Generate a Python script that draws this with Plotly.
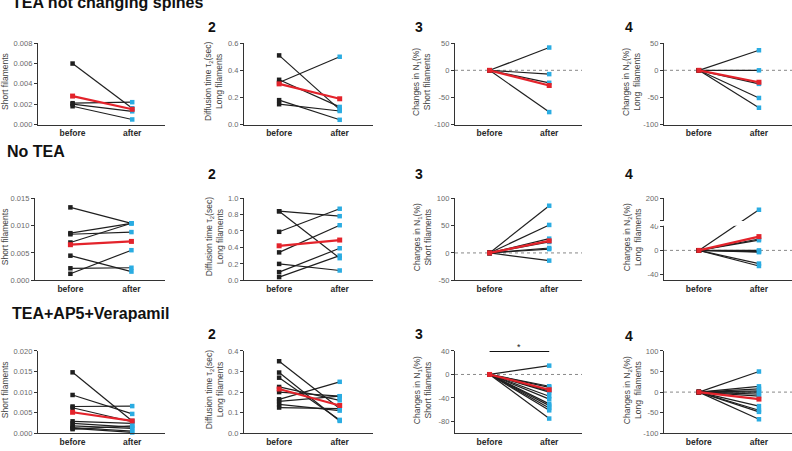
import plotly.graph_objects as go

W, H = 792, 451

# ---------------- data ----------------
groups = ["TEA not changing spines", "No TEA", "TEA+AP5+Verapamil"]
conditions = ["before", "after"]

# Row 1 : TEA not changing spines
r1_short_before = [0.0060, 0.0021, 0.0020, 0.0018]
r1_short_after = [0.0016, 0.0022, 0.0013, 0.0005]
r1_short_mean = [0.0028, 0.0015]
r1_tau2_before = [0.51, 0.33, 0.31, 0.18, 0.15]
r1_tau2_after = [0.11, 0.13, 0.50, 0.035, 0.10]
r1_tau2_mean = [0.30, 0.19]
r1_n1_after = [42, -7, -23, -77]
r1_n1_mean = [0, -28]
r1_n2_after = [37, 0, -25, -51, -69]
r1_n2_mean = [0, -22]

# Row 2 : No TEA
r2_short_before = [0.0133, 0.0086, 0.0084, 0.0069, 0.0045, 0.0022, 0.0012]
r2_short_after = [0.0104, 0.0104, 0.0088, 0.0104, 0.0016, 0.0023, 0.0055]
r2_short_mean = [0.0065, 0.0071]
r2_tau2_before = [0.84, 0.84, 0.59, 0.34, 0.20, 0.10, 0.04]
r2_tau2_after = [0.78, 0.27, 0.87, 0.67, 0.12, 0.39, 0.30]
r2_tau2_mean = [0.42, 0.49]
r2_n1_after = [86, 51, 26, 20, 9, 7, -14]
r2_n1_mean = [0, 22]
r2_n2_after = [122, 19, 17, 0, -2, -3, -22, -26]
r2_n2_mean = [0, 23]

# Row 3 : TEA+AP5+Verapamil
r3_short_before = [0.0148, 0.0093, 0.0065, 0.0062, 0.0029, 0.0024, 0.0018, 0.0014, 0.0012, 0.0010]
r3_short_after = [0.0030, 0.0047, 0.0066, 0.0028, 0.0024, 0.0015, 0.0012, 0.0005, 0.0002, 0.0018]
r3_short_mean = [0.0051, 0.0030]
r3_tau2_before = [0.35, 0.295, 0.27, 0.225, 0.20, 0.165, 0.155, 0.14, 0.125]
r3_tau2_after = [0.12, 0.06, 0.065, 0.16, 0.18, 0.25, 0.18, 0.11, 0.12]
r3_tau2_mean = [0.215, 0.135]
r3_n1_after = [15, -20, -22, -28, -30, -37, -42, -50, -53, -57, -61, -75]
r3_n1_mean = [0, -26]
r3_n2_after = [50, 14, 8, 3, 0, -5, -10, -34, -44, -48, -66]
r3_n2_mean = [0, -17]

sig_r3_n1 = {"from": 0, "to": 1, "level": 40, "label": "*"}

# broken axis (row 2, panel 4): lower segment -50..40, upper segment 50..200
BRK_LO, BRK_HI_START, BRK_HI_END = 40, 50, 200
BRK_GAP_DISP, BRK_TOP_DISP = 49.8, 87.3


def broken(v):
    if v <= BRK_LO:
        return v
    return BRK_GAP_DISP + (v - BRK_HI_START) / (BRK_HI_END - BRK_HI_START) * (BRK_TOP_DISP - BRK_GAP_DISP)


# ---------------- styles ----------------
FONT = "Arial, Liberation Sans, sans-serif"
BLACK = "#1f1f1f"
CYAN = "#2aace2"
RED = "#e3232b"
AX = "#333333"

col_px = [(38, 165), (244, 373), (455, 582), (664, 792)]
row_px = [(40, 123), (198, 282), (354, 438)]

ytitles = [
    "Short filaments",
    "Diffusion time τ<sub>2</sub>(sec)<br>Long filaments",
    "Changes in N<sub>1</sub>(%)<br>Short filaments",
    "Changes in N<sub>2</sub>(%)<br>Long  filaments",
]
ytitle_x = [5, 214, 422, 632]

panels = [
    # row 1
    dict(b=r1_short_before, a=r1_short_after, m=r1_short_mean, rng=[0, 0.008], tv=[0, 0.002, 0.004, 0.006, 0.008], fmt=".3f"),
    dict(b=r1_tau2_before, a=r1_tau2_after, m=r1_tau2_mean, rng=[0, 0.6], tv=[0, 0.2, 0.4, 0.6], fmt=".1f"),
    dict(b=[0] * len(r1_n1_after), a=r1_n1_after, m=r1_n1_mean, rng=[-100, 50], tv=[-100, -50, 0, 50], fmt="d", zero=True),
    dict(b=[0] * len(r1_n2_after), a=r1_n2_after, m=r1_n2_mean, rng=[-100, 50], tv=[-100, -50, 0, 50], fmt="d", zero=True),
    # row 2
    dict(b=r2_short_before, a=r2_short_after, m=r2_short_mean, rng=[0, 0.015], tv=[0, 0.005, 0.010, 0.015], fmt=".3f"),
    dict(b=r2_tau2_before, a=r2_tau2_after, m=r2_tau2_mean, rng=[0, 1.0], tv=[0, 0.2, 0.4, 0.6, 0.8, 1.0], fmt=".1f"),
    dict(b=[0] * len(r2_n1_after), a=r2_n1_after, m=r2_n1_mean, rng=[-50, 100], tv=[-50, 0, 50, 100], fmt="d", zero=True),
    dict(b=[0] * len(r2_n2_after), a=r2_n2_after, m=r2_n2_mean, rng=[-50, 200], tv=[-40, 0, 40, 50, 200], fmt="d", zero=True, broken=True),
    # row 3
    dict(b=r3_short_before, a=r3_short_after, m=r3_short_mean, rng=[0, 0.020], tv=[0, 0.005, 0.010, 0.015, 0.020], fmt=".3f"),
    dict(b=r3_tau2_before, a=r3_tau2_after, m=r3_tau2_mean, rng=[0, 0.4], tv=[0, 0.1, 0.2, 0.3, 0.4], fmt=".1f"),
    dict(b=[0] * len(r3_n1_after), a=r3_n1_after, m=r3_n1_mean, rng=[-100, 40], tv=[-80, -40, 0, 40], fmt="d", zero=True),
    dict(b=[0] * len(r3_n2_after), a=r3_n2_after, m=r3_n2_mean, rng=[-100, 100], tv=[-100, -50, 0, 50, 100], fmt="d", zero=True),
]

fig = go.Figure()
layout = dict(
    width=W, height=H, margin=dict(l=0, r=0, t=0, b=0),
    paper_bgcolor="white", plot_bgcolor="rgba(0,0,0,0)", showlegend=False,
    font=dict(family=FONT),
)
shapes = []
annotations = []

xpos = [0, 1]

for i, p in enumerate(panels):
    r, c = divmod(i, 4)
    n = i + 1
    xa = "xaxis" if n == 1 else f"xaxis{n}"
    ya = "yaxis" if n == 1 else f"yaxis{n}"
    xr = "x" if n == 1 else f"x{n}"
    yr = "y" if n == 1 else f"y{n}"
    x0, x1 = col_px[c]
    if r == 1 and c == 0:
        x0 = 35
    y0, y1 = row_px[r]
    tf = broken if p.get("broken") else (lambda v: v)

    layout[xa] = dict(
        domain=[x0 / W, x1 / W], anchor=yr, range=[-0.58, 1.55],
        tickmode="array", tickvals=xpos, ticktext=conditions,
        showline=True, linecolor=AX, linewidth=1.3, ticks="", showgrid=False, zeroline=False,
        tickfont=dict(size=8.5, color="#2a2a2a", family=FONT, weight="bold"),
    )
    if p.get("broken"):
        rng = [tf(-50), BRK_TOP_DISP]
        tickvals = [tf(v) for v in p["tv"]]
        ticktext = [("" if v == BRK_HI_START else str(v)) for v in p["tv"]]
    else:
        rng = p["rng"]
        tickvals = p["tv"]
        ticktext = [format(v, p["fmt"]) if p["fmt"] != "d" else str(int(v)) for v in p["tv"]]
    layout[ya] = dict(
        domain=[1 - y1 / H, 1 - y0 / H], anchor=xr, range=rng,
        tickmode="array", tickvals=tickvals, ticktext=ticktext,
        showline=True, linecolor=AX, linewidth=1.3, ticks="outside", ticklen=3, tickwidth=1, tickcolor=AX,
        showgrid=False, zeroline=False,
        tickfont=dict(size=7.5, color="#6a6a6a", family=FONT),
    )

    if p.get("zero"):
        shapes.append(dict(type="line", xref=f"{xr} domain", x0=0, x1=1, yref=yr, y0=0, y1=0,
                           line=dict(color="#888888", width=1, dash="dot"), layer="below"))

    for b, a in zip(p["b"], p["a"]):
        fig.add_trace(go.Scatter(
            x=xpos, y=[tf(b), tf(a)], xaxis=xr, yaxis=yr, mode="lines+markers",
            line=dict(color=BLACK, width=1.2),
            marker=dict(symbol="square", size=4.5, color=[BLACK, CYAN], line=dict(width=0)),
            cliponaxis=False, hoverinfo="skip",
        ))
    fig.add_trace(go.Scatter(
        x=xpos, y=[tf(v) for v in p["m"]], xaxis=xr, yaxis=yr, mode="lines+markers",
        line=dict(color=RED, width=2.2),
        marker=dict(symbol="square", size=5, color=RED, line=dict(width=0)),
        cliponaxis=False, hoverinfo="skip",
    ))

    if p.get("broken"):
        shapes.append(dict(type="rect", xref="paper", x0=(x0 - 8) / W, x1=1,
                           yref=yr, y0=41, y1=49, fillcolor="white", line=dict(width=0), layer="above"))

    # y-axis titles
    annotations.append(dict(
        text=ytitles[c], xref="paper", yref="paper", x=ytitle_x[c] / W, y=1 - ((y0 + y1) / 2 - 2) / H,
        xanchor="center", yanchor="middle", textangle=-90, showarrow=False,
        font=dict(size=8.5, color="#444444", family=FONT),
    ))
    # panel numbers
    if c > 0:
        num_x = [212, 419, 629][c - 1]
        num_y = [23, 173, 337][r] + (2 if (r == 2 and c == 3) else 0)
        annotations.append(dict(
            text=f"<b>{c + 1}</b>", xref="paper", yref="paper", x=num_x / W, y=1 - num_y / H,
            xanchor="center", yanchor="middle", showarrow=False,
            font=dict(size=14, color="#111111", family=FONT),
        ))

# significance bar in row 3, panel 3
shapes.append(dict(type="line", xref="x11", yref="y11", x0=sig_r3_n1["from"], x1=sig_r3_n1["to"],
                   y0=sig_r3_n1["level"], y1=sig_r3_n1["level"], line=dict(color="#111111", width=2)))
annotations.append(dict(text=sig_r3_n1["label"], xref="x11", yref="y11",
                        x=(sig_r3_n1["from"] + sig_r3_n1["to"]) / 2, y=sig_r3_n1["level"],
                        xanchor="center", yanchor="bottom", yshift=-3, showarrow=False,
                        font=dict(size=9, color="#222222", family=FONT)))

# group titles
title_pos = [(10, -2), (5, 151), (10, 316)]
for g, (tx, ty) in zip(groups, title_pos):
    annotations.append(dict(
        text=f"<b>{g}</b>", xref="paper", yref="paper", x=tx / W, y=1 - ty / H,
        xanchor="left", yanchor="middle", showarrow=False,
        font=dict(size=16, color="#111111", family=FONT),
    ))

layout["shapes"] = shapes
layout["annotations"] = annotations
fig.update_layout(**layout)
fig.write_html("out.html")
